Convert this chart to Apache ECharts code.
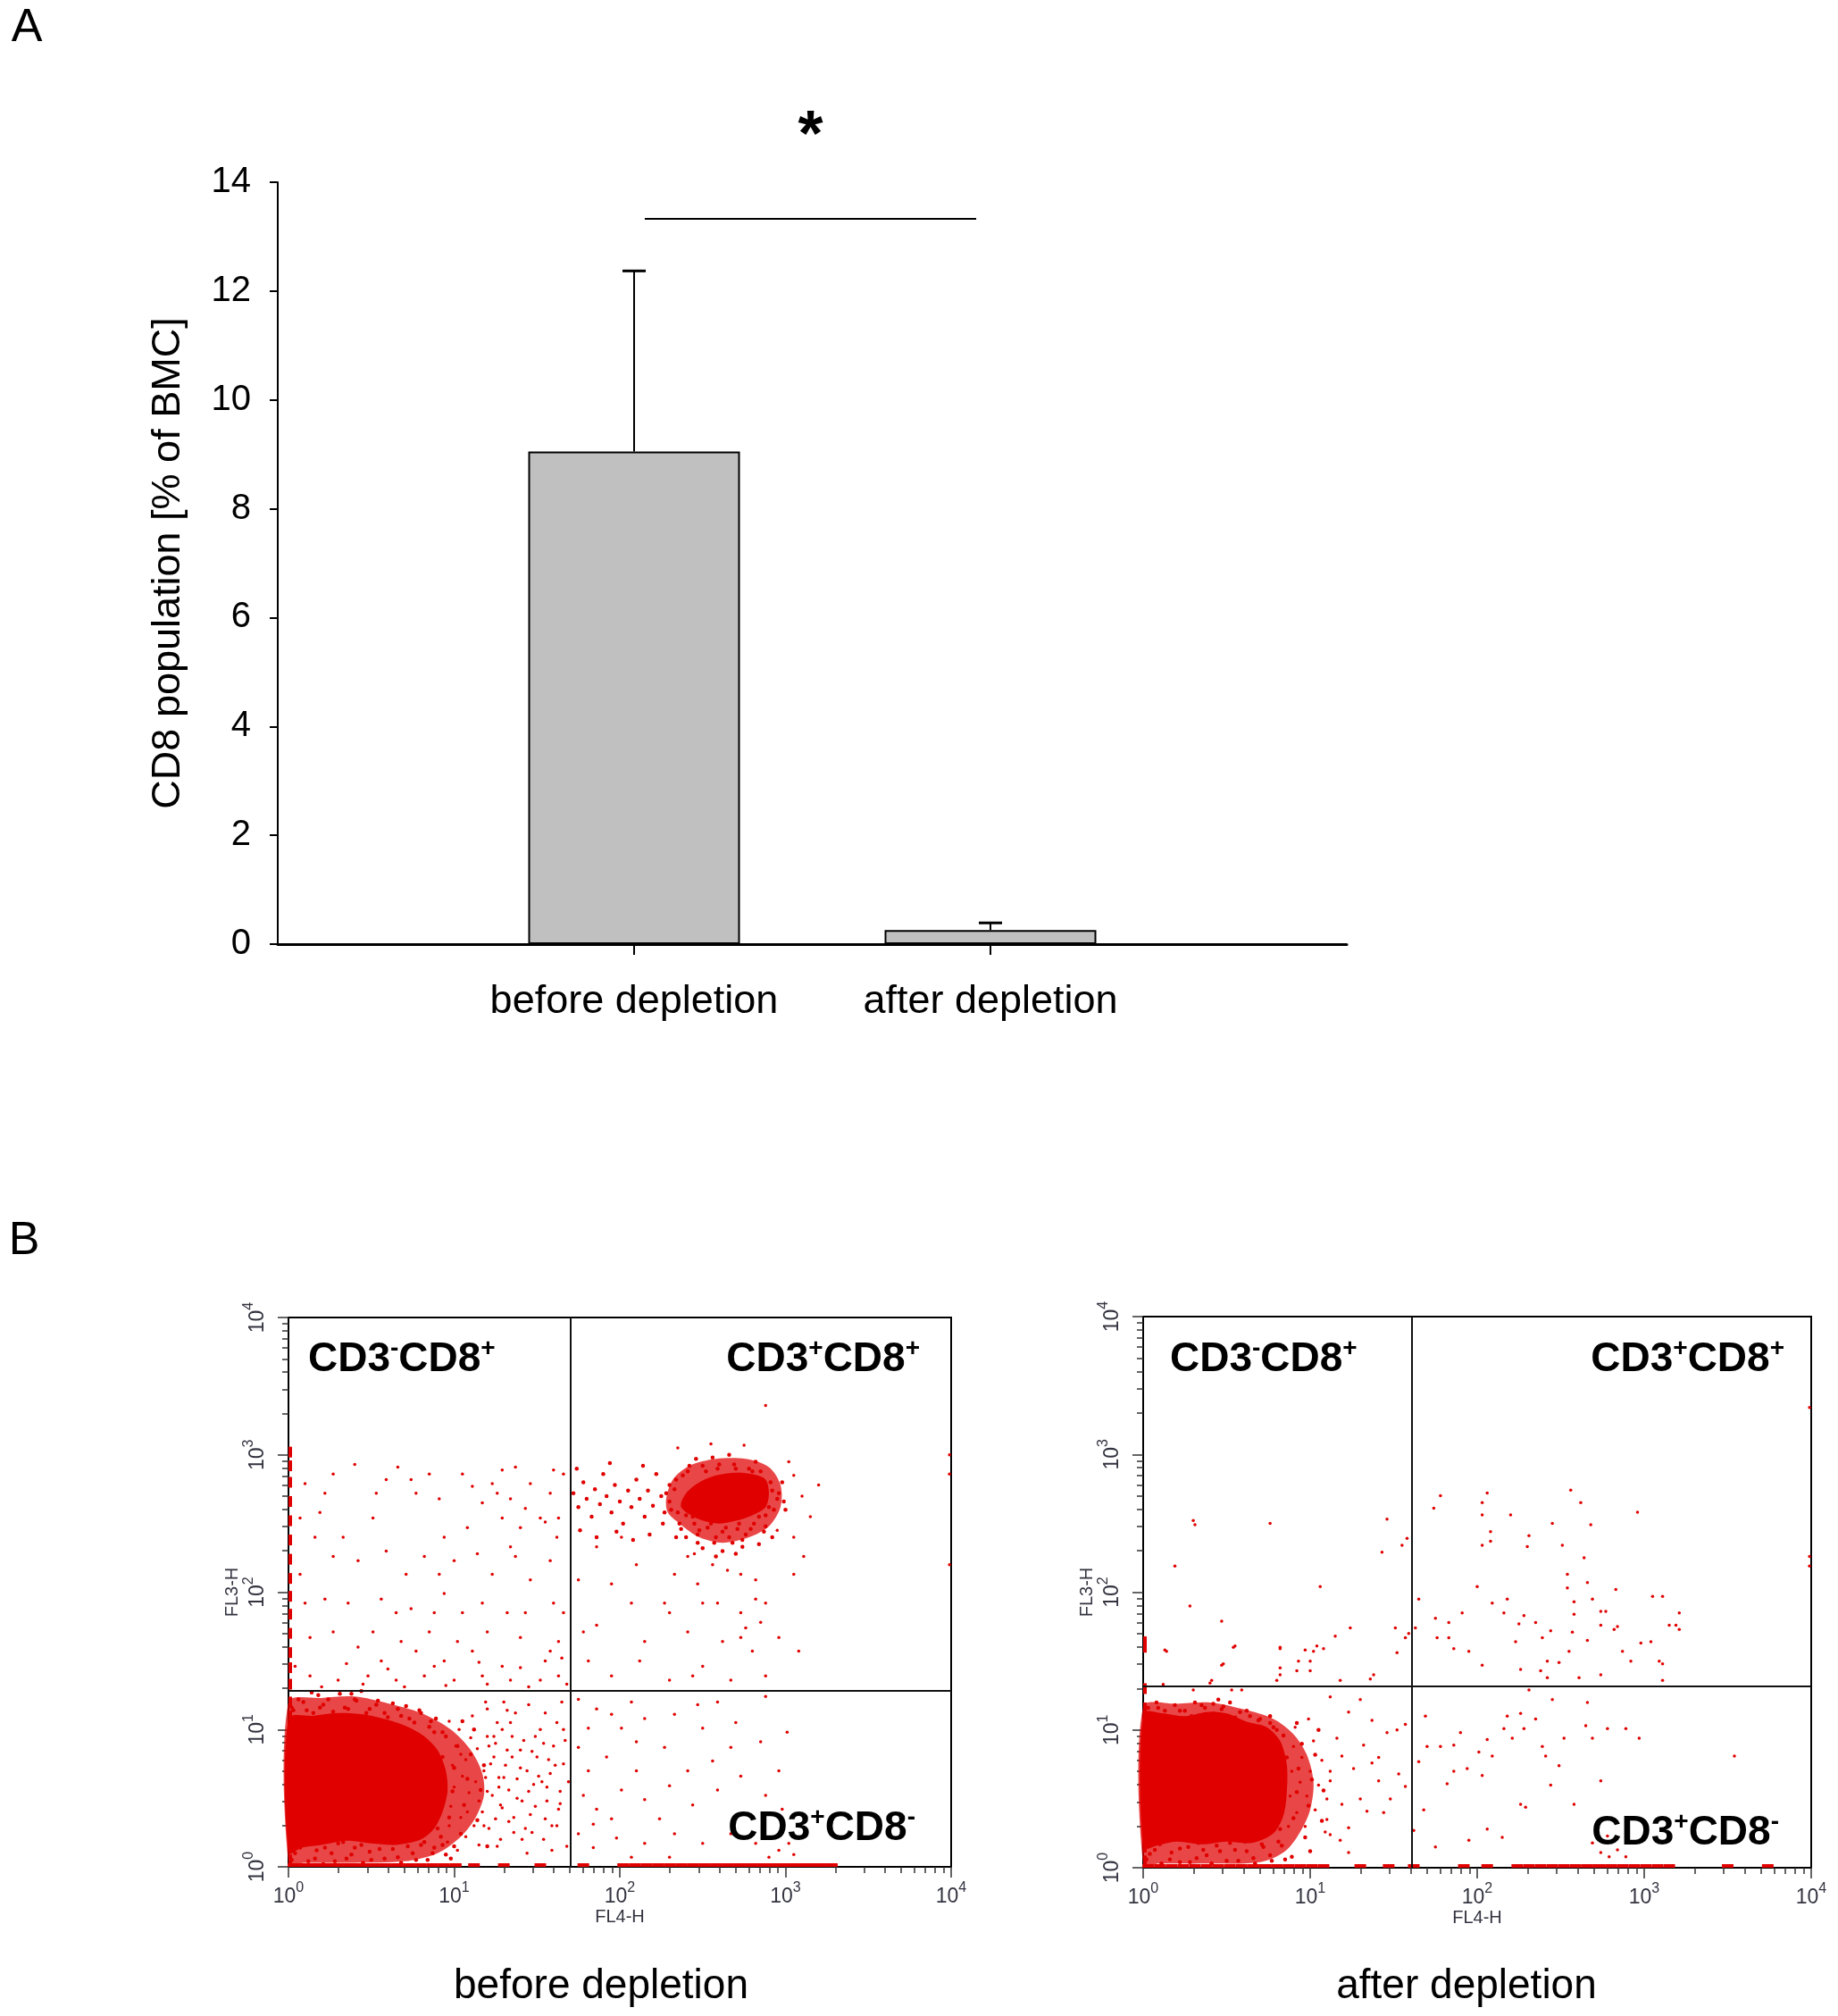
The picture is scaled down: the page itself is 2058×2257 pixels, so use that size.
<!DOCTYPE html>
<html>
<head>
<meta charset="utf-8">
<script src="https://cdn.jsdelivr.net/npm/echarts@6/dist/echarts.min.js"></script>
<style>
  html, body { margin: 0; padding: 0; background: #fff; }
  #chart { width: 2058px; height: 2257px; }
</style>
</head>
<body>
<div id="chart"></div>
<script>
// ---- panel A: bar chart ----
const barNames = ['before depletion', 'after depletion'];
const barX = [1, 2];
const barValues = [9.05, 0.26];
const barErrors = [3.32, 0.13];
const sigLine = [1.03, 1.96, 13.33];

// ---- panel B: flow plots, values in decades (10^x) ----
const minorOffsets = [0.301, 0.477, 0.602, 0.699, 0.778, 0.845, 0.903, 0.954];

const gateBefore = [1.70, 1.28];
const gateAfter = [1.61, 1.32];

// outlines of the crowded regions: outer = speckled, core = saturated
const beforeOuterLL = [
    [0.00,1.20],[0.20,1.23],[0.40,1.24],[0.60,1.19],[0.80,1.12],[0.98,1.00],[1.10,0.85],[1.17,0.68],
    [1.18,0.52],[1.13,0.36],[1.04,0.22],[0.90,0.10],[0.70,0.04],[0.40,0.03],[0.10,0.03],[0.00,0.03]
];
const beforeDenseLL = [
    [0.00,1.08],[0.15,1.10],[0.30,1.12],[0.45,1.11],[0.60,1.07],[0.72,1.02],[0.82,0.95],[0.90,0.85],
    [0.95,0.70],[0.96,0.55],[0.93,0.40],[0.88,0.28],[0.80,0.20],[0.65,0.16],[0.50,0.17],[0.35,0.19],
    [0.20,0.16],[0.08,0.14],[0.00,0.10]
];
const beforeOuterUR = [
    [2.28,2.68],[2.32,2.82],[2.42,2.92],[2.58,2.97],[2.76,2.97],[2.90,2.91],[2.97,2.78],[2.97,2.62],
    [2.90,2.48],[2.78,2.40],[2.62,2.36],[2.48,2.40],[2.36,2.50],[2.29,2.58]
];
const beforeDenseUR = [
    [2.37,2.62],[2.40,2.72],[2.48,2.80],[2.58,2.85],[2.70,2.87],[2.80,2.86],[2.88,2.82],[2.90,2.72],
    [2.88,2.62],[2.80,2.56],[2.70,2.52],[2.60,2.50],[2.48,2.53]
];
const afterOuterLL = [
    [0.00,1.17],[0.20,1.19],[0.40,1.20],[0.60,1.15],[0.78,1.08],[0.90,0.97],[0.98,0.82],[1.02,0.62],
    [1.00,0.42],[0.94,0.26],[0.85,0.12],[0.70,0.04],[0.40,0.03],[0.10,0.03],[0.00,0.03]
];
const afterDenseLL = [
    [0.00,1.12],[0.12,1.12],[0.25,1.10],[0.38,1.13],[0.50,1.12],[0.62,1.06],[0.74,1.02],[0.82,0.92],
    [0.86,0.75],[0.86,0.55],[0.84,0.38],[0.78,0.25],[0.65,0.18],[0.50,0.19],[0.35,0.17],[0.20,0.19],
    [0.08,0.16],[0.00,0.14]
];

const beforeMid = [
    // fringe of the lower-left population
    [0.04,0.10],[0.10,0.17],[0.16,0.06],[0.22,0.14],[0.28,0.04],[0.33,0.18],[0.38,0.09],[0.44,0.16],
    [0.50,0.05],[0.55,0.13],[0.61,0.19],[0.66,0.07],[0.72,0.15],[0.77,0.05],[0.82,0.18],[0.87,0.10],
    [0.93,0.16],[0.98,0.06],[0.13,0.24],[0.47,0.24],[0.79,0.26],
    [0.02,0.05],[0.07,0.14],[0.12,0.04],[0.17,0.12],[0.21,0.02],[0.26,0.10],[0.30,0.17],[0.35,0.06],
    [0.40,0.14],[0.45,0.03],[0.49,0.11],[0.53,0.19],[0.58,0.06],[0.63,0.13],[0.68,0.03],[0.70,0.20],
    [0.75,0.10],[0.80,0.16],[0.84,0.05],[0.88,0.14],[0.92,0.22],[0.95,0.09],
    [0.03,1.14],[0.09,1.20],[0.15,1.12],[0.21,1.18],[0.28,1.10],[0.34,1.16],[0.41,1.21],[0.47,1.12],
    [0.53,1.18],[0.60,1.09],[0.66,1.15],[0.73,1.08],[0.79,1.14],[0.86,1.06],[0.38,1.26],[0.18,1.25],
    [0.02,1.16],[0.06,1.22],[0.11,1.14],[0.14,1.27],[0.19,1.16],[0.24,1.22],[0.27,1.13],[0.31,1.26],
    [0.36,1.15],[0.40,1.22],[0.44,1.28],[0.49,1.15],[0.54,1.21],[0.58,1.12],[0.63,1.19],[0.68,1.10],
    [0.71,1.17],[0.76,1.05],[0.80,1.12],[0.85,1.02],[0.89,1.08],[0.93,0.98],
    [0.90,0.28],[0.91,0.45],[0.92,0.62],[0.93,0.80],[0.95,0.95],[0.97,0.36],[0.99,0.55],[1.00,0.72],
    [1.02,0.88],[1.04,0.24],[1.06,0.45],[1.08,0.64],[1.10,0.82],[1.12,1.00],[1.14,0.34],[1.16,0.56],
    [1.18,0.74],[1.05,1.06],[0.88,0.98],[1.20,0.15],[1.00,0.15],
    // streak left of the CD3+CD8+ cluster
    [1.72,2.72],[1.75,2.62],[1.78,2.80],[1.80,2.68],[1.83,2.55],[1.85,2.75],[1.88,2.64],[1.90,2.86],
    [1.92,2.70],[1.95,2.58],[1.97,2.78],[2.00,2.66],[2.02,2.50],[2.05,2.74],[2.07,2.62],[2.10,2.82],
    [2.12,2.68],[2.15,2.55],[2.17,2.74],[2.20,2.63],[2.22,2.86],[2.25,2.70],[2.27,2.58],[2.30,2.78],
    [1.76,2.45],[1.86,2.40],[1.98,2.44],[2.08,2.38],[2.18,2.42],[1.74,2.90],[1.94,2.94],[2.14,2.92],
    // ring round the CD3+CD8+ cluster
    [2.30,2.66],[2.33,2.75],[2.35,2.58],[2.38,2.85],[2.36,2.50],[2.42,2.92],[2.44,2.55],[2.48,2.45],
    [2.52,2.88],[2.55,2.50],[2.58,2.40],[2.60,2.93],[2.64,2.47],[2.68,2.36],[2.70,2.90],[2.72,2.50],
    [2.76,2.42],[2.80,2.88],[2.84,2.55],[2.86,2.82],[2.90,2.62],[2.92,2.74],[2.95,2.68],[2.88,2.48],
    [2.50,2.32],[2.62,2.30],[2.74,2.33],[2.46,2.97],[2.66,3.00],[2.82,2.95],[2.98,2.80],[3.00,2.60],
    [2.40,2.40],[2.56,2.98],
    [2.28,2.72],[2.31,2.60],[2.34,2.82],[2.37,2.46],[2.40,2.56],[2.41,2.88],[2.45,2.50],[2.47,2.42],
    [2.50,2.92],[2.53,2.47],[2.57,2.36],[2.59,2.90],[2.62,2.44],[2.66,2.40],[2.69,2.93],[2.71,2.46],
    [2.74,2.38],[2.78,2.90],[2.81,2.50],[2.85,2.88],[2.88,2.56],[2.91,2.80],[2.93,2.60],[2.96,2.72],
    [2.99,2.66],[2.87,2.44],[2.79,2.46],[2.70,2.28],[2.58,2.26],[2.47,2.36],[2.84,2.35],[2.92,2.40],
    [2.34,2.40],[2.26,2.50]
];
const beforeDots = [
    // upper left
    [0.40,2.93],[0.10,2.79],[0.27,2.86],[0.66,2.91],[0.85,2.86],[1.05,2.86],[1.29,2.89],[1.37,2.91],
    [1.60,2.89],[1.66,2.86],[1.11,2.77],[1.26,2.72],[1.34,2.68],[1.52,2.54],[1.55,2.51],[1.43,2.61],
    [1.17,2.65],[1.08,2.47],[1.34,2.33],[1.37,2.26],[1.14,2.28],[0.94,2.40],[0.77,2.72],[0.59,2.82],
    [0.51,2.54],[0.33,2.40],[0.16,2.40],[0.19,2.58],[0.42,2.23],[0.59,2.30],[0.71,2.13],[0.82,2.26],
    [0.56,1.95],[0.65,1.85],[0.74,1.88],[0.88,1.85],[0.94,1.99],[1.05,1.85],[0.36,1.92],[0.22,1.95],
    [0.07,2.13],[0.13,1.67],[0.27,1.71],[0.42,1.60],[0.56,1.50],[0.77,1.57],[0.94,1.50],[1.11,1.57],
    [1.29,1.46],[1.40,1.67],[1.58,1.57],[1.60,1.92],[1.63,1.39],[1.52,1.36],[1.34,1.36],[1.17,1.39],
    [1.00,1.36],[0.82,1.39],[0.65,1.36],[0.48,1.39],[0.30,1.36],[0.13,1.39],[0.04,1.46],[0.91,2.13],
    [1.00,2.23],[1.23,2.13],[1.17,1.92],[1.32,1.85],[1.46,2.09],[1.58,2.23],[1.62,2.40],[1.58,2.72],
    [1.46,2.79],[1.23,2.79],[0.91,2.68],[0.74,2.82],[0.53,2.72],[0.22,2.72],[0.07,2.54],[0.27,2.26],
    [0.10,1.92],[0.51,1.71],[0.68,1.64],[0.85,1.71],[1.02,1.64],[1.20,1.71],[1.43,1.85],[1.55,1.50],
    [1.63,1.64],[1.66,1.85],[1.63,2.54],[1.40,2.47],[1.29,2.54],
    [0.20,1.31],[0.45,1.33],[0.70,1.31],[0.95,1.32],[1.20,1.33],[1.45,1.31],[1.68,1.33],[0.35,1.48],
    [0.60,1.44],[0.88,1.46],[1.15,1.49],[1.40,1.45],[1.65,1.52],
    // upper right, below and around the cluster
    [1.78,1.71],[1.86,1.76],[1.75,2.09],[1.95,2.06],[2.10,2.20],[2.07,1.92],[2.15,1.64],[2.30,1.85],
    [2.41,1.71],[2.50,1.46],[2.62,1.64],[2.73,1.67],[2.76,1.74],[2.82,1.95],[2.88,1.92],[2.85,1.78],
    [2.96,1.67],[3.08,1.57],[2.82,2.09],[2.73,2.13],[2.65,2.16],[2.56,2.20],[2.47,2.06],[2.33,2.13],
    [2.27,1.92],[2.12,1.50],[2.30,1.36],[2.44,1.39],[2.67,1.36],[2.88,1.39],[3.11,2.26],[3.05,2.13],
    [2.50,1.92],[2.59,1.92],[2.41,2.26],[1.86,2.33],[2.01,2.40],[1.81,1.50],[1.95,1.39],[2.73,1.85],
    [2.80,1.57],
    [3.05,2.85],[3.10,2.70],[3.15,2.55],[3.20,2.78],[2.35,3.05],[2.55,3.08],[2.75,3.07],[3.02,2.95],
    [2.45,2.28],[2.95,2.45],[3.05,2.40],[2.88,3.36],[3.99,3.00],[3.99,2.86],[3.99,2.20],
    // lower right
    [1.75,1.22],[1.86,1.15],[1.95,1.11],[2.07,1.20],[2.15,1.08],[2.33,1.11],[2.47,1.18],[2.59,1.20],
    [2.88,1.24],[3.01,0.98],[2.85,0.91],[2.67,0.87],[2.56,0.77],[2.41,0.70],[2.27,0.87],[2.10,0.91],
    [1.92,0.80],[1.81,0.70],[1.75,0.87],[1.78,0.52],[1.86,0.42],[2.01,0.56],[2.15,0.49],[2.30,0.59],
    [2.44,0.45],[2.59,0.56],[2.73,0.66],[2.88,0.52],[2.96,0.70],[2.98,0.42],[3.02,0.17],[2.96,0.12],
    [2.90,0.07],[3.05,0.09],[2.82,0.17],[2.67,0.24],[2.50,0.17],[2.33,0.24],[2.15,0.17],[1.98,0.21],
    [1.84,0.14],[1.75,0.24],[1.95,0.35],[2.10,0.70],[2.24,0.35],[2.50,1.01],[2.70,1.05],[2.01,1.01],
    [1.81,1.01],[1.84,0.31],[2.30,0.07],[2.07,0.07],
    // lower left tail
    [1.18,0.30],[1.20,0.55],[1.22,0.75],[1.24,0.95],[1.26,0.15],[1.28,0.45],[1.30,0.65],[1.32,0.85],
    [1.34,1.05],[1.36,0.25],[1.38,0.50],[1.40,0.72],[1.42,0.92],[1.44,0.10],[1.46,0.38],[1.48,0.60],
    [1.50,0.80],[1.52,1.00],[1.54,0.20],[1.56,0.48],[1.58,0.68],[1.60,0.88],[1.62,0.30],[1.64,0.55],
    [1.66,0.75],[1.68,0.15],[1.20,1.15],[1.30,1.20],[1.45,1.18],[1.55,1.12],[1.65,1.20],[1.25,0.35],
    [1.35,0.80],[1.45,0.55],[1.55,0.35],[1.62,1.05],[1.19,0.65],[1.27,0.58],[1.33,0.33],[1.41,0.20],
    [1.49,0.95],[1.57,0.78],[1.63,0.42],[1.21,0.88],[1.29,1.00],[1.37,1.12],[1.47,0.25],[1.53,0.62],
    [1.67,0.92],[1.59,0.12],
    [0.96,0.18],[0.97,0.30],[0.98,0.44],[1.00,0.58],[0.99,0.74],[1.01,0.88],[1.03,1.00],[1.02,0.12],
    [1.04,0.36],[1.05,0.66],[1.04,0.82],[0.97,1.06],[1.07,0.22],[1.08,0.40],[1.09,0.54],[1.07,0.78],
    [1.10,0.94],[1.12,0.30],[1.13,0.62],[1.14,0.86],[1.11,1.10],[1.15,0.48],[1.15,0.16],[1.17,0.40],
    [1.18,0.70],[1.20,0.95],[1.21,0.28],[1.23,0.52],[1.24,0.80],[1.26,1.05],[1.27,0.65],[1.28,0.20],
    [1.29,0.43],[1.19,1.20],[1.25,0.90],[1.31,0.74],[1.33,0.56],[1.35,0.95],[1.36,0.36],[1.38,0.64],
    [1.40,0.85],[1.41,0.48],[1.43,0.28],[1.44,0.70],[1.32,1.14],[1.47,0.84],[1.49,0.44],[1.51,0.66],
    [1.54,0.90],[1.56,0.58],[1.59,0.30],[1.61,0.74],[1.64,0.46],[1.66,1.00],[1.69,0.62]
];
const beforeRugX = [0.03,0.10,0.17,0.24,0.31,0.38,0.45,0.52,0.59,0.66,0.73,0.80,0.87,0.94,1.01,
    1.12,1.30,1.52,1.78,2.02,2.09,2.16,2.23,2.30,2.37,2.44,2.51,2.58,2.65,2.72,2.79,2.86,2.93,
    3.00,3.07,3.14,3.21,3.28];
const beforeRugY = [0.05,0.15,1.10,1.20,1.33,1.45,1.56,1.70,1.84,1.97,2.10,2.24,2.38,2.52,2.66,2.80,2.92,3.02];

const afterMid = [
    [0.04,0.10],[0.10,0.17],[0.16,0.06],[0.22,0.14],[0.28,0.04],[0.33,0.18],[0.38,0.09],[0.44,0.16],
    [0.50,0.05],[0.55,0.13],[0.61,0.19],[0.66,0.07],[0.72,0.15],[0.77,0.05],[0.83,0.16],[0.89,0.08],
    [0.13,0.24],[0.47,0.24],
    [0.02,0.06],[0.07,0.13],[0.11,0.03],[0.17,0.11],[0.22,0.04],[0.27,0.15],[0.32,0.07],[0.36,0.13],
    [0.41,0.03],[0.46,0.12],[0.52,0.18],[0.57,0.05],[0.62,0.12],[0.67,0.03],[0.71,0.17],[0.76,0.09],
    [0.81,0.19],[0.85,0.06],
    [0.03,1.10],[0.09,1.16],[0.15,1.08],[0.22,1.14],[0.29,1.10],[0.35,1.18],[0.42,1.12],[0.48,1.17],
    [0.55,1.09],[0.62,1.14],[0.69,1.07],[0.76,1.10],[0.45,1.22],
    [0.03,1.16],[0.08,1.20],[0.13,1.14],[0.19,1.18],[0.25,1.14],[0.31,1.20],[0.37,1.16],[0.42,1.19],
    [0.47,1.15],[0.52,1.20],[0.58,1.13],[0.64,1.10],[0.70,1.08],[0.76,1.05],[0.80,1.00],
    [0.82,0.28],[0.84,0.45],[0.85,0.62],[0.86,0.80],[0.84,0.96],[0.90,0.36],[0.92,0.55],[0.93,0.72],
    [0.95,0.90],[0.97,0.22],[0.99,0.45],[1.01,0.64],[1.03,0.82],[1.05,1.00],[1.07,0.34],[1.08,0.56],
    [0.78,1.02],[0.92,1.05],[1.00,0.12]
];
const afterDots = [
    // lower left tail
    [0.87,0.30],[0.88,0.52],[0.89,0.70],[0.90,0.88],[0.92,0.40],[0.94,0.62],[0.95,0.80],[0.97,0.30],
    [0.98,0.52],[1.00,0.70],[1.02,0.92],[1.03,0.42],[1.05,0.60],[1.07,0.78],[1.09,0.26],[1.10,0.50],
    [1.12,0.70],[0.91,1.02],[0.99,1.08],
    [1.12,1.24],[1.23,1.13],[1.30,1.22],[1.37,1.07],[1.46,0.98],[1.52,1.00],[1.57,1.04],[1.32,0.89],
    [1.19,0.81],[1.26,0.72],[1.37,0.76],[1.41,0.63],[1.53,0.68],[1.57,0.59],[1.48,0.50],[1.30,0.50],
    [1.19,0.46],[1.34,0.41],[1.44,0.40],[1.23,0.29],[1.18,0.20],[1.23,0.11],[1.12,0.63],[1.16,0.94],
    [1.62,0.27],[1.10,0.35],[1.12,0.24],[1.41,0.80],
    // upper left
    [0.30,2.52],[0.31,2.49],[0.76,2.50],[0.19,2.19],[0.28,1.90],[0.47,1.79],[0.54,1.60],[0.47,1.47],
    [0.82,1.45],[0.82,1.59],[0.14,1.57],[1.06,2.04],[1.24,1.74],[1.15,1.68],[0.97,1.58],[1.02,1.57],
    [0.93,1.50],[0.92,1.43],[1.36,1.37],[1.51,1.74],[1.46,2.53],[1.43,2.29],[1.55,2.34],[1.58,2.39],
    [1.57,1.67],[0.40,1.34],[0.12,1.33],
    [0.30,1.29],[0.53,1.29],[0.59,1.29],[0.41,1.36],[0.48,1.48],[0.55,1.61],[0.13,1.58],[0.82,1.60],
    [0.80,1.36],[1.04,1.61],[1.08,1.59],[1.00,1.50],[1.00,1.43],[0.82,1.40],[1.18,1.36],[1.38,1.40],
    [1.52,1.56],[1.59,1.70],
    // upper right
    [1.78,2.70],[1.74,2.61],[2.03,2.65],[2.06,2.72],[2.03,2.56],[2.20,2.56],[2.56,2.74],[2.62,2.65],
    [2.68,2.49],[2.45,2.50],[2.96,2.58],[2.08,2.44],[2.08,2.37],[2.03,2.34],[2.31,2.41],[2.30,2.33],
    [2.51,2.34],[2.64,2.25],[2.54,2.13],[2.54,2.03],[2.66,2.07],[2.58,1.93],[2.58,1.84],[2.69,1.95],
    [2.77,1.86],[2.83,2.02],[2.57,1.71],[2.44,1.72],[2.35,1.78],[2.25,1.77],[2.16,1.85],[2.28,1.83],
    [2.18,1.95],[2.09,1.92],[2.00,2.04],[1.91,1.85],[1.75,1.81],[1.83,1.67],[1.76,1.67],[1.83,1.78],
    [1.65,1.95],[1.63,1.74],[1.86,1.59],[1.95,1.57],[2.03,1.47],[2.26,1.44],[2.38,1.43],[2.42,1.50],
    [2.49,1.49],[2.55,1.57],[2.66,1.65],[2.74,1.76],[2.82,1.73],[2.87,1.57],[2.92,1.50],[2.98,1.63],
    [3.04,1.64],[3.09,1.50],[3.11,1.48],[3.05,1.97],[3.11,1.97],[3.15,1.76],[3.19,1.76],[3.21,1.85],
    [3.21,1.73],[2.84,1.75],[3.11,1.36],[2.74,1.40],[2.61,1.38],[2.42,1.38],[2.74,1.86],[2.39,1.67],
    [2.23,1.64],[3.99,3.34],[3.99,2.26],[3.99,2.19],
    // lower right
    [1.69,1.10],[1.65,0.77],[1.68,0.42],[1.70,0.88],[1.78,0.88],[1.86,0.89],[1.90,0.98],[1.86,0.70],
    [1.94,0.72],[2.01,0.84],[2.06,0.93],[2.03,0.67],[2.09,0.81],[2.16,1.01],[2.18,1.10],[2.21,0.94],
    [2.26,1.12],[2.28,1.01],[2.35,1.08],[2.39,0.88],[2.41,0.81],[2.49,0.74],[2.52,0.94],[2.45,1.22],
    [2.66,1.20],[2.65,1.03],[2.69,0.94],[2.74,0.63],[2.78,1.01],[2.97,0.94],[2.89,1.01],[3.54,0.81],
    [2.29,0.44],[2.26,0.46],[2.06,0.28],[1.95,0.20],[1.75,0.15],[1.82,0.61],[2.15,0.22],[2.44,0.60],
    [2.58,0.46],[2.69,0.18],[2.78,0.23],[2.84,0.13],[2.89,0.08],[2.79,0.08],[2.74,0.11],[2.31,1.29]
];
const afterRugX = [0.03,0.10,0.17,0.24,0.31,0.38,0.45,0.52,0.59,0.66,0.73,0.80,0.87,0.94,1.01,1.08,
    1.30,1.47,1.62,1.92,2.06,2.24,2.31,2.38,2.45,2.52,2.59,2.66,2.73,2.80,2.87,2.94,3.01,3.08,3.15,
    3.50,3.74];
const afterRugY = [0.05,0.15,1.08,1.16,1.30,1.60,1.64];

const red = '#e00000';
const font = 'Liberation Sans';

const myChart = echarts.init(document.getElementById('chart'), null, { renderer: 'canvas' });

function flowGrid(left, top, width, height) {
    return { left, top, width, height, show: true, borderColor: '#000', borderWidth: 2, backgroundColor: 'transparent' };
}

const supLabel = {
    formatter: (v) => '{b|10}{s|' + v + '}',
    rich: {
        b: { fontSize: 23, lineHeight: 36, color: '#333340', fontFamily: font },
        s: { fontSize: 16, lineHeight: 14, verticalAlign: 'top', color: '#333340', fontFamily: font }
    }
};

function majorAxis(gridIndex, isY, name, nameGap) {
    return {
        type: 'value', gridIndex, min: 0, max: 4, interval: 1,
        position: isY ? 'left' : 'bottom',
        name, nameLocation: 'middle', nameGap,
        nameTextStyle: { fontSize: 20, color: '#333340', fontFamily: font },
        axisLine: { show: true, lineStyle: { color: '#000', width: 2 } },
        axisTick: { show: true, length: 12, lineStyle: { color: '#333', width: 1.5 } },
        axisLabel: { ...supLabel, margin: 16, rotate: isY ? 90 : 0 },
        splitLine: { show: false }
    };
}

function minorAxis(gridIndex, isY) {
    const ticks = [];
    [0, 1, 2, 3].forEach(d => minorOffsets.forEach(m => ticks.push(d + m)));
    return {
        type: 'value', gridIndex, min: 0, max: 4,
        position: isY ? 'left' : 'bottom',
        axisLine: { show: false },
        axisTick: { show: true, length: 7, customValues: ticks, lineStyle: { color: '#333', width: 1.5 } },
        axisLabel: { show: false },
        splitLine: { show: false }
    };
}

// crowded region drawn as one polygon through the axes' scales
function denseSeries(axisIndex, outline, opacity) {
    return {
        type: 'custom', xAxisIndex: axisIndex, yAxisIndex: axisIndex, silent: true,
        data: outline,
        renderItem: (params, api) => {
            if (params.dataIndex !== 0) return null;
            return {
                type: 'polygon',
                shape: { points: outline.map(p => api.coord(p)), smooth: 0.3 },
                style: { fill: red, opacity }
            };
        }
    };
}

function flowSeries(axisIndex, outer, dense, mid, dots, rugX, rugY, gate) {
    const base = { type: 'scatter', xAxisIndex: axisIndex, yAxisIndex: axisIndex, silent: true, animation: false,
        itemStyle: { color: red, opacity: 1 } };
    return [
        ...outer.map(outline => denseSeries(axisIndex, outline, 0.72)),
        ...dense.map(outline => denseSeries(axisIndex, outline, 1)),
        { ...base, symbolSize: 4.5, data: mid },
        { ...base, symbolSize: 3.5, data: dots },
        { ...base, symbol: 'rect', symbolSize: [13, 4], symbolOffset: [0, -2], data: rugX.map(x => [x, 0]) },
        { ...base, symbol: 'rect', symbolSize: [4, 12], symbolOffset: [2, 0], data: rugY.map(y => [0, y]),
          markLine: {
              silent: true, symbol: ['none', 'none'], label: { show: false },
              lineStyle: { color: '#111', width: 2, type: 'solid' },
              data: [{ xAxis: gate[0] }, { yAxis: gate[1] }]
          } }
    ];
}

function quadLabel(x, y, align, sup1, sup2) {
    return {
        type: 'text', x, y, z: 100,
        style: {
            text: '{m|CD3}{s|' + sup1 + '}{m|CD8}{s|' + sup2 + '}',
            align, verticalAlign: 'middle', textAlign: align, textVerticalAlign: 'middle',
            rich: {
                m: { fontSize: 46, fontWeight: 'bold', lineHeight: 52, fill: '#000', fontFamily: font },
                s: { fontSize: 28, fontWeight: 'bold', lineHeight: 26, verticalAlign: 'top', fill: '#000', fontFamily: font }
            }
        }
    };
}

function plainText(x, y, text, size, align) {
    return {
        type: 'text', x, y, z: 100,
        style: { text, fontSize: size, fontFamily: font, fill: '#000',
            align: align || 'center', verticalAlign: 'middle',
            textAlign: align || 'center', textVerticalAlign: 'middle' }
    };
}

const option = {
    animation: false,
    backgroundColor: '#fff',
    textStyle: { fontFamily: font },
    grid: [
        { left: 311, top: 204, width: 1197, height: 853 },
        flowGrid(323, 1475, 742, 615),
        flowGrid(1280, 1474, 748, 617)
    ],
    xAxis: [
        {
            type: 'value', gridIndex: 0, min: 0, max: 3,
            axisLine: { lineStyle: { color: '#000', width: 3 } },
            axisTick: { show: true, length: 12, customValues: barX, lineStyle: { color: '#000', width: 2 } },
            axisLabel: { customValues: barX, formatter: (v) => barNames[barX.indexOf(v)],
                fontSize: 45, color: '#000', margin: 42 },
            splitLine: { show: false }
        },
        majorAxis(1, false, 'FL4-H', 44),
        minorAxis(1, false),
        majorAxis(2, false, 'FL4-H', 44),
        minorAxis(2, false)
    ],
    yAxis: [
        {
            type: 'value', gridIndex: 0, min: 0, max: 14, interval: 2,
            name: 'CD8 population [% of BMC]', nameLocation: 'middle', nameGap: 100,
            nameTextStyle: { fontSize: 45, color: '#000' },
            axisLine: { show: true, lineStyle: { color: '#000', width: 2 } },
            axisTick: { show: true, length: 9, lineStyle: { color: '#000', width: 2 } },
            axisLabel: { fontSize: 40, color: '#000', margin: 30 },
            splitLine: { show: false }
        },
        majorAxis(1, true, 'FL3-H', 48),
        minorAxis(1, true),
        majorAxis(2, true, 'FL3-H', 45),
        minorAxis(2, true)
    ],
    series: [
        {
            type: 'bar', xAxisIndex: 0, yAxisIndex: 0, barWidth: 237,
            data: barX.map((x, i) => [x, barValues[i]]),
            itemStyle: { color: '#c0c0c0', borderColor: '#000', borderWidth: 2 },
            markLine: {
                silent: true, symbol: ['none', 'none'],
                lineStyle: { color: '#000', width: 2, type: 'solid' },
                label: { show: true, position: 'middle', formatter: '*', fontSize: 72, fontWeight: 'bold',
                    color: '#000', distance: 55 },
                data: [[{ coord: [sigLine[0], sigLine[2]] }, { coord: [sigLine[1], sigLine[2]] }]]
            }
        },
        {
            type: 'custom', xAxisIndex: 0, yAxisIndex: 0, silent: true,
            data: barX.map((x, i) => [x, barValues[i], barErrors[i]]),
            renderItem: (params, api) => {
                const x = api.value(0), v = api.value(1), e = api.value(2);
                const p0 = api.coord([x, v]);
                const p1 = api.coord([x, v + e]);
                return {
                    type: 'group',
                    children: [
                        { type: 'line', shape: { x1: p0[0], y1: p0[1], x2: p1[0], y2: p1[1] },
                          style: { stroke: '#000', lineWidth: 2 } },
                        { type: 'line', shape: { x1: p1[0] - 13, y1: p1[1], x2: p1[0] + 13, y2: p1[1] },
                          style: { stroke: '#000', lineWidth: 3 } }
                    ]
                };
            }
        },
        ...flowSeries(1, [beforeOuterLL, beforeOuterUR], [beforeDenseLL, beforeDenseUR],
            beforeMid, beforeDots, beforeRugX, beforeRugY, gateBefore),
        ...flowSeries(3, [afterOuterLL], [afterDenseLL],
            afterMid, afterDots, afterRugX, afterRugY, gateAfter)
    ],
    graphic: [
        plainText(30, 32, 'A', 52),
        plainText(27, 1390, 'B', 52),
        plainText(673, 2224, 'before depletion', 46),
        plainText(1642, 2224, 'after depletion', 46),
        quadLabel(345, 1522, 'left', '-', '+'),
        quadLabel(1030, 1522, 'right', '+', '+'),
        quadLabel(1025, 2047, 'right', '+', '-'),
        quadLabel(1310, 1522, 'left', '-', '+'),
        quadLabel(1998, 1522, 'right', '+', '+'),
        quadLabel(1992, 2052, 'right', '+', '-')
    ]
};

myChart.setOption(option);

window.onresize = function () {
    myChart.resize();
};
</script>
</body>
</html>
